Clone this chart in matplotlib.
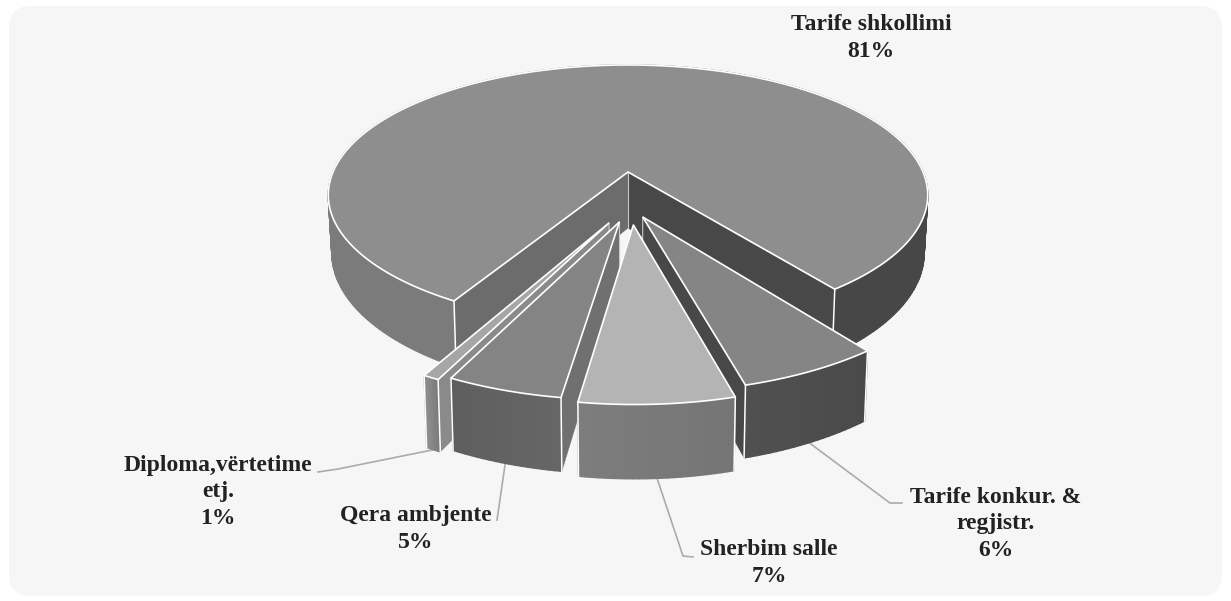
import numpy as np
import matplotlib
matplotlib.use("Agg")
import matplotlib.pyplot as plt
from matplotlib.patches import Polygon, FancyBboxPatch

# Data
categories = ['Tarife shkollimi', 'Tarife konkur. &\nregjistr.', 'Sherbim salle',
              'Qera ambjente', 'Diploma,vërtetime\netj.']
values = [81.4, 6.1, 6.5, 4.9, 0.7]
percent_labels = ['81%', '6%', '7%', '5%', '1%']

# Look of each slice
top_colors = ['#8e8e8e', '#858585', '#b4b4b4', '#848484', '#a6a6a6']
wall_left = ['#7b7b7b', '#505050', '#7d7d7d', '#5e5e5e', '#8c8c8c']
wall_right = ['#474747', '#4a4a4a', '#757575', '#666666', '#7c7c7c']
side_start = ['#484848', '#848484', '#4a4a4a', '#707070', '#8a8a8a']
side_end = ['#6c6c6c', '#484848', '#707070', '#707070', '#8a8a8a']
# slice apex moved on the disc (explosion)
offsets = [(0, 0), (0.047, -0.336), (0.017, -0.391), (-0.027, -0.37), (-0.06, -0.377)]
label_pos = [(871, 38), (996, 524), (769, 563), (416, 529), (218, 492)]
# leader line bend and end, in pixels
leader_end = [None, [(890, 503), (902, 503)], [(683, 556), (693, 557)],
              [(497, 520)], [(338, 469), (318, 472)]]

start_angle = -53.0
x0, y0 = 628, 172
A, B, k, H = 126, 295, 0.177, 56


def proj(u, v, z=0.0):
    w = 1 + k * v
    x = B * u / w
    y = y0 - A * v / w + H * z / w
    return x0 + x * (1 - 0.012 * z), y


def ring(off, th, z=0.0):
    return proj(off[0] + np.cos(th), off[1] + np.sin(th), z)


fig = plt.figure(figsize=(12.31, 6.01), dpi=100)
ax = fig.add_axes([0, 0, 1, 1])
ax.set_xlim(0, 1231)
ax.set_ylim(601, 0)
ax.axis('off')

ax.add_patch(FancyBboxPatch((9, 6), 1213, 590, boxstyle='round,pad=0,rounding_size=22',
                            lw=0, fc='#f6f6f6'))

# clockwise from start_angle for the small slices, main one goes the long way
angles = [(start_angle, start_angle + values[0] * 3.6)]
cur = start_angle
for val in values[1:]:
    angles.append((cur, cur - val * 3.6))
    cur -= val * 3.6


def mix(c1, c2, t):
    a = np.array(matplotlib.colors.to_rgb(c1))
    b = np.array(matplotlib.colors.to_rgb(c2))
    return a * (1 - t) + b * t


def draw_slice(i, z):
    off = offsets[i]
    a1, a2 = np.radians(angles[i][0]), np.radians(angles[i][1])
    n = max(int(abs(angles[i][1] - angles[i][0])), 4)
    th = np.linspace(a1, a2, n + 1)
    ax_top = proj(off[0], off[1])
    ax_bot = proj(off[0], off[1], 1)

    # radial walls
    for a, col in ((a1, side_start[i]), (a2, side_end[i])):
        tx, ty = ring(off, a)
        bx, by = ring(off, a, 1)
        ax.add_patch(Polygon([ax_top, (tx, ty), (bx, by), ax_bot], fc=col, ec=col, lw=0.3, zorder=z))
    ax.plot([ax_top[0], ax_bot[0]], [ax_top[1], ax_bot[1]], color='#c8c8c8', lw=0.8, zorder=z)

    # outer wall, strip by strip so it can be shaded
    tx, ty = ring(off, th)
    bx, by = ring(off, th, 1)
    for j in range(n):
        if i == 0:
            t = np.clip(np.cos(th[j]) + 0.5, 0, 1)
        else:
            t = 1 - j / max(n - 1, 1)
        col = mix(wall_left[i], wall_right[i], t)
        ax.add_patch(Polygon([(tx[j], ty[j]), (tx[j + 1], ty[j + 1]), (bx[j + 1], by[j + 1]), (bx[j], by[j])],
                             fc=col, ec=col, lw=1.0, zorder=z))

    # top
    pts = [ax_top] + list(zip(tx, ty))
    ax.add_patch(Polygon(pts, closed=True, fc=top_colors[i], ec='white', lw=1.2,
                         joinstyle='miter', zorder=z))

    # white vertical edges at the corners
    for a in (a1, a2):
        px, py = ring(off, a)
        qx, qy = ring(off, a, 1)
        ax.plot([px, qx], [py, qy], color='white', lw=1.1, zorder=z)


for z, i in enumerate([0, 4, 3, 1, 2]):
    draw_slice(i, 2 + z)

# labels
for i, name in enumerate(categories):
    lx, ly = label_pos[i]
    ax.text(lx, ly, f"{name}\n{percent_labels[i]}", ha='center', va='center', family='Liberation Serif',
            fontweight='bold', fontsize=17, color='#222222', linespacing=1.32, zorder=20)
    if leader_end[i] is not None:
        mid = np.radians(sum(angles[i]) / 2)
        sx, sy = ring(offsets[i], mid, 1)
        xs = [sx] + [p[0] for p in leader_end[i]]
        ys = [sy] + [p[1] for p in leader_end[i]]
        ax.plot(xs, ys, color='#ababab', lw=1.2, zorder=1)

fig.savefig('out.png', dpi=100)
